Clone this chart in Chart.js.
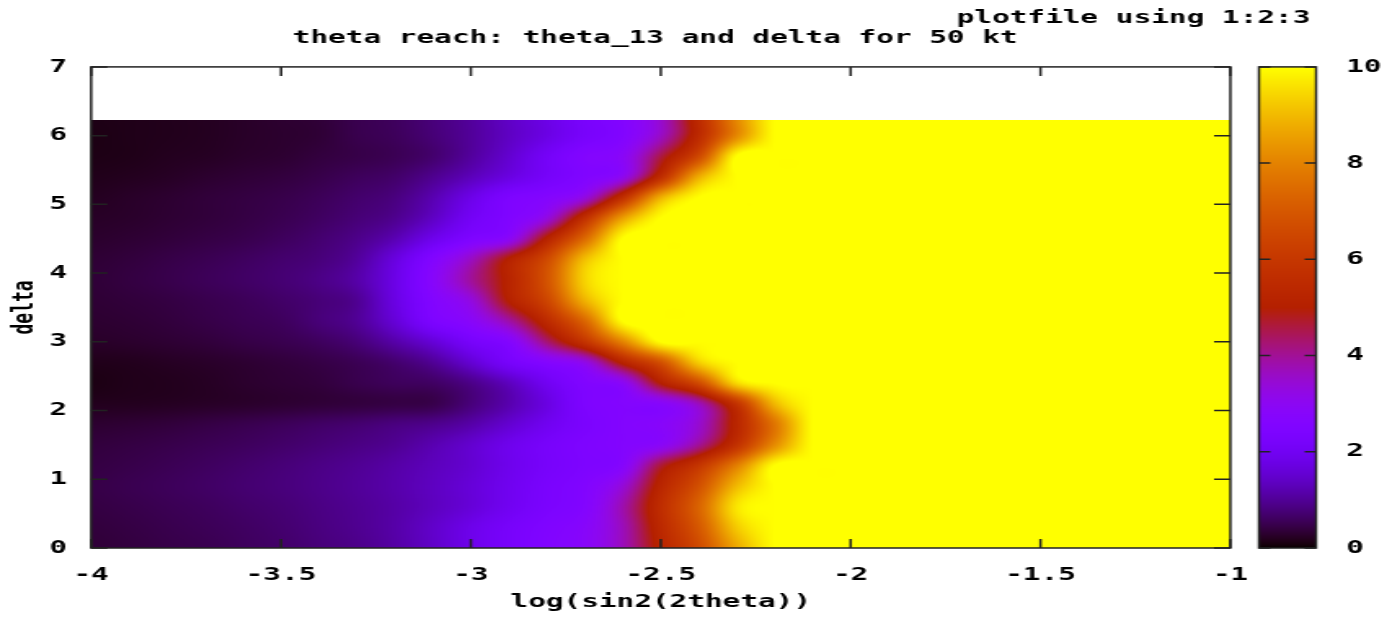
<!DOCTYPE html>
<html>
<head>
<meta charset="utf-8">
<title>theta reach</title>
<script src="https://cdn.jsdelivr.net/npm/chart.js@4.4.1/dist/chart.umd.min.js"></script>
<style>
  html, body { margin: 0; padding: 0; background: #fff; overflow: hidden; }
  #wrap { position: absolute; left: 0; top: 0; width: 850px; height: 619px; transform: scale(1.6318, 1); transform-origin: 0 0; }
</style>
</head>
<body>
<div id="wrap"><canvas id="reach" width="850" height="619"></canvas></div>
<script>
// log(sin2(2theta)) columns of the grid
const logSin = [-4.0, -3.9, -3.8, -3.7, -3.6, -3.5, -3.4, -3.3, -3.2, -3.1, -3.0,
  -2.9, -2.8, -2.7, -2.6, -2.5, -2.4, -2.3, -2.2, -2.1, -2.0, -1.0];

// delta rows of the grid
const deltas = [0, 0.3, 0.6, 0.9, 1.2, 1.5, 1.8, 2.1, 2.4, 2.7, 3.0,
  3.3, 3.6, 3.9, 4.2, 4.5, 4.8, 5.1, 5.4, 5.7, 6.0, 6.23];

// reach value, one row per delta, one entry per logSin column
const reach = [
  [0.35, 0.40, 0.46, 0.51, 0.59, 0.67, 0.79, 0.91, 1.12, 1.44, 1.86, 2.22, 2.55, 2.85, 3.7, 5.23, 6.63, 8.7, 10, 10, 10, 10],
  [0.38, 0.43, 0.49, 0.55, 0.62, 0.71, 0.83, 0.96, 1.15, 1.46, 1.85, 2.2, 2.5, 2.8, 3.7, 5.43, 7.02, 9.25, 10, 10, 10, 10],
  [0.42, 0.47, 0.53, 0.59, 0.67, 0.75, 0.86, 0.98, 1.13, 1.35, 1.62, 1.99, 2.34, 2.64, 3.8, 5.6, 7.31, 9.65, 10, 10, 10, 10],
  [0.45, 0.51, 0.57, 0.64, 0.72, 0.8, 0.9, 1.02, 1.17, 1.37, 1.62, 1.95, 2.3, 2.58, 3.4, 5.29, 6.8, 8.99, 10, 10, 10, 10],
  [0.42, 0.47, 0.53, 0.6, 0.68, 0.77, 0.87, 0.98, 1.13, 1.32, 1.54, 1.89, 2.2, 2.43, 2.75, 4.65, 5.95, 7.92, 10, 10, 10, 10],
  [0.38, 0.42, 0.47, 0.53, 0.59, 0.67, 0.76, 0.86, 0.98, 1.22, 1.51, 1.89, 2.21, 2.45, 2.62, 2.91, 4.0, 5.8, 8.19, 10, 10, 10],
  [0.30, 0.33, 0.37, 0.43, 0.49, 0.56, 0.64, 0.72, 0.83, 0.93, 1.15, 1.53, 1.96, 2.34, 2.62, 2.8, 3.48, 5.32, 7.72, 10, 10, 10],
  [0.18, 0.19, 0.21, 0.24, 0.27, 0.31, 0.35, 0.39, 0.43, 0.48, 0.8, 1.2, 1.74, 2.43, 2.62, 2.8, 3.7, 5.88, 8.97, 10, 10, 10],
  [0.12, 0.16, 0.18, 0.22, 0.28, 0.33, 0.38, 0.49, 0.58, 0.64, 0.9, 1.35, 2.0, 2.54, 2.95, 5.03, 6.67, 9.48, 10, 10, 10, 10],
  [0.16, 0.18, 0.22, 0.26, 0.31, 0.37, 0.44, 0.54, 0.71, 1.0, 1.55, 2.2, 2.65, 3.2, 5.19, 6.82, 9.31, 10, 10, 10, 10, 10],
  [0.25, 0.28, 0.32, 0.37, 0.44, 0.5, 0.6, 0.78, 1.15, 1.6, 2.2, 2.65, 4.25, 5.89, 8.03, 10, 10, 10, 10, 10, 10, 10],
  [0.3, 0.33, 0.38, 0.45, 0.52, 0.59, 0.78, 1.0, 1.6, 2.4, 2.85, 3.85, 5.48, 7.38, 10, 10, 10, 10, 10, 10, 10, 10],
  [0.33, 0.37, 0.42, 0.49, 0.56, 0.66, 0.78, 0.98, 1.75, 2.6, 3.3, 5.04, 6.47, 8.86, 10, 10, 10, 10, 10, 10, 10, 10],
  [0.35, 0.41, 0.48, 0.56, 0.64, 0.74, 0.88, 1.15, 1.8, 2.8, 3.95, 5.22, 6.88, 9.39, 10, 10, 10, 10, 10, 10, 10, 10],
  [0.33, 0.38, 0.45, 0.52, 0.6, 0.7, 0.8, 1.05, 1.7, 2.6, 3.6, 5.08, 6.6, 9.07, 10, 10, 10, 10, 10, 10, 10, 10],
  [0.28, 0.32, 0.37, 0.43, 0.49, 0.59, 0.72, 0.91, 1.25, 1.88, 2.47, 2.95, 5.15, 7.47, 10, 10, 10, 10, 10, 10, 10, 10],
  [0.24, 0.27, 0.32, 0.37, 0.43, 0.51, 0.62, 0.77, 0.95, 1.4, 2.07, 2.52, 3.3, 5.72, 8.54, 10, 10, 10, 10, 10, 10, 10],
  [0.2, 0.25, 0.3, 0.36, 0.41, 0.47, 0.56, 0.69, 0.83, 1.22, 1.82, 2.41, 2.65, 3.3, 5.7, 8.82, 10, 10, 10, 10, 10, 10],
  [0.16, 0.19, 0.23, 0.29, 0.34, 0.39, 0.47, 0.58, 0.68, 0.95, 1.31, 1.73, 2.17, 2.55, 3.1, 5.61, 8.78, 10, 10, 10, 10, 10],
  [0.13, 0.15, 0.19, 0.22, 0.27, 0.31, 0.39, 0.46, 0.54, 0.71, 1.06, 1.52, 2.11, 2.6, 2.9, 4.56, 6.58, 10, 10, 10, 10, 10],
  [0.12, 0.15, 0.17, 0.2, 0.25, 0.29, 0.34, 0.49, 0.58, 0.77, 1.03, 1.39, 1.78, 2.24, 2.6, 3.6, 5.5, 8.12, 10, 10, 10, 10],
  [0.13, 0.15, 0.17, 0.2, 0.25, 0.3, 0.35, 0.5, 0.6, 0.8, 1.05, 1.42, 1.8, 2.27, 2.62, 3.5, 5.5, 8.1, 10, 10, 10, 10],
];

const xTicks = [-4, -3.5, -3, -2.5, -2, -1.5, -1];
const yTicks = [0, 1, 2, 3, 4, 5, 6, 7];
const cbTicks = [0, 2, 4, 6, 8, 10];

const FONT = { family: "'DejaVu Sans Mono', monospace", size: 18, weight: 'bold' };
const FONT_CSS = "bold 18px 'DejaVu Sans Mono', monospace";
const BLACK = '#000000';
const FRAME = '#222222';
const CLEAR = 'rgba(0,0,0,0)';
const X_TICK = 9;
const Y_TICK = 10;
const CB_GAP = 17.5;
const CB_WIDTH = 35;
const CB_TICK = 7;
const CB_LABEL = 71;

Chart.defaults.color = BLACK;

const heatmap = {
  id: 'heatmap',
  beforeDraw(chart) {
    const { ctx } = chart;
    const { x, y } = chart.scales;
    const left = Math.round(x.getPixelForValue(logSin[0]));
    const right = Math.round(x.getPixelForValue(logSin[logSin.length - 1]));
    const top = Math.round(y.getPixelForValue(deltas[deltas.length - 1]));
    const bottom = Math.round(y.getPixelForValue(deltas[0]));
    const w = right - left;
    const h = bottom - top;
    const img = ctx.createImageData(w, h);

    const cols = [];
    for (let i = 0; i < w; i++) cols.push(locate(logSin, x.getValueForPixel(left + i + 0.5)));

    for (let j = 0; j < h; j++) {
      const [r, u] = locate(deltas, y.getValueForPixel(top + j + 0.5));
      const rows = [r - 1, r, r + 1, r + 2].map((k) => reach[clampIndex(k, reach.length)]);
      for (let i = 0; i < w; i++) {
        const [c, t] = cols[i];
        const ks = [c - 1, c, c + 1, c + 2].map((k) => clampIndex(k, logSin.length));
        const along = rows.map((row) => cubic(row[ks[0]], row[ks[1]], row[ks[2]], row[ks[3]], t));
        const rgb = palette(cubic(along[0], along[1], along[2], along[3], u));
        const k = (j * w + i) * 4;
        img.data[k] = rgb[0];
        img.data[k + 1] = rgb[1];
        img.data[k + 2] = rgb[2];
        img.data[k + 3] = 255;
      }
    }
    ctx.putImageData(img, left, top);
  }
};

const frame = {
  id: 'frame',
  afterDraw(chart) {
    const { ctx, chartArea: a } = chart;
    const { x, y } = chart.scales;
    ctx.save();
    ctx.strokeStyle = FRAME;
    ctx.lineWidth = 1.5;
    ctx.strokeRect(a.left, a.top, a.right - a.left, a.bottom - a.top);
    ctx.beginPath();
    xTicks.forEach((v) => {
      const px = x.getPixelForValue(v);
      ctx.moveTo(px, a.bottom);
      ctx.lineTo(px, a.bottom - X_TICK);
      ctx.moveTo(px, a.top);
      ctx.lineTo(px, a.top + X_TICK);
    });
    yTicks.forEach((v) => {
      const py = y.getPixelForValue(v);
      ctx.moveTo(a.left, py);
      ctx.lineTo(a.left + Y_TICK, py);
      ctx.moveTo(a.right, py);
      ctx.lineTo(a.right - Y_TICK, py);
    });
    ctx.stroke();
    ctx.restore();
  }
};

const colorbar = {
  id: 'colorbar',
  beforeDraw(chart) {
    const { ctx } = chart;
    const cb = chart.scales.cb;
    const left = cb.left + CB_GAP;
    const top = Math.round(cb.getPixelForValue(cbTicks[cbTicks.length - 1]));
    const bottom = Math.round(cb.getPixelForValue(cbTicks[0]));
    for (let py = top; py < bottom; py++) {
      const rgb = palette(cb.getValueForPixel(py + 0.5));
      ctx.fillStyle = `rgb(${rgb[0]},${rgb[1]},${rgb[2]})`;
      ctx.fillRect(left, py, CB_WIDTH, 1);
    }
  },
  afterDraw(chart) {
    const { ctx } = chart;
    const cb = chart.scales.cb;
    const left = cb.left + CB_GAP;
    const top = cb.getPixelForValue(cbTicks[cbTicks.length - 1]);
    const bottom = cb.getPixelForValue(cbTicks[0]);
    ctx.save();
    ctx.strokeStyle = FRAME;
    ctx.lineWidth = 1.5;
    ctx.strokeRect(left, top, CB_WIDTH, bottom - top);
    ctx.beginPath();
    cbTicks.forEach((v) => {
      const py = cb.getPixelForValue(v);
      ctx.moveTo(left, py);
      ctx.lineTo(left + CB_TICK, py);
      ctx.moveTo(left + CB_WIDTH, py);
      ctx.lineTo(left + CB_WIDTH - CB_TICK, py);
    });
    ctx.stroke();
    ctx.fillStyle = BLACK;
    ctx.font = FONT_CSS;
    ctx.textAlign = 'left';
    ctx.textBaseline = 'middle';
    cbTicks.forEach((v) => ctx.fillText(String(v), cb.left + CB_LABEL, cb.getPixelForValue(v)));
    ctx.restore();
  }
};

const spacer = (len) => ({ display: true, drawOnChartArea: false, drawTicks: true, tickLength: len, color: CLEAR });
const useTicks = (list) => (scale) => { scale.ticks = list.map((v) => ({ value: v })); };

new Chart(document.getElementById('reach'), {
  type: 'scatter',
  data: { datasets: [] },
  plugins: [heatmap, colorbar, frame],
  options: {
    responsive: false,
    animation: false,
    devicePixelRatio: 1,
    layout: { padding: { left: 0, right: 47, top: 0, bottom: 0 } },
    plugins: {
      legend: { display: false },
      tooltip: { enabled: false },
      title: {
        display: true, text: 'plotfile using 1:2:3', align: 'end',
        color: BLACK, font: FONT, padding: { top: 8, bottom: -2 }
      },
      subtitle: {
        display: true, text: 'theta reach: theta_13 and delta for 50 kt',
        color: BLACK, font: FONT, padding: { top: 0, bottom: 17.7 }
      }
    },
    scales: {
      x: {
        type: 'linear', position: 'bottom', min: -4, max: -1,
        afterBuildTicks: useTicks(xTicks),
        grid: spacer(16.5), border: { display: false },
        ticks: { padding: 0, font: FONT, color: BLACK, autoSkip: false, maxRotation: 0, callback: (v) => String(v) },
        title: { display: true, text: 'log(sin2(2theta))', font: FONT, color: BLACK, padding: { top: 5.9, bottom: 5.4 } }
      },
      y: {
        type: 'linear', position: 'left', min: 0, max: 7,
        afterBuildTicks: useTicks(yTicks),
        grid: spacer(14.8), border: { display: false },
        ticks: { padding: 0, font: FONT, color: BLACK, autoSkip: false, callback: (v) => String(v) },
        title: { display: true, text: 'delta', font: FONT, color: BLACK, padding: { top: 4.4, bottom: 4.2 } }
      },
      cb: {
        type: 'linear', position: 'right', min: 0, max: 10,
        afterBuildTicks: useTicks(cbTicks),
        afterFit: (s) => { s.width = 49; },
        grid: { display: false },
        border: { display: false },
        ticks: { display: false }
      }
    }
  }
});

// gnuplot palette rgbformulae 7,5,15 on a 0..10 range
function palette(v) {
  const g = Math.min(1, Math.max(0, v / 10));
  return [
    Math.round(255 * Math.sqrt(g)),
    Math.round(255 * g * g * g),
    Math.round(255 * Math.max(0, Math.sin(2 * Math.PI * g)))
  ];
}

function locate(grid, v) {
  let k = 0;
  while (k < grid.length - 2 && v > grid[k + 1]) k++;
  const t = (v - grid[k]) / (grid[k + 1] - grid[k]);
  return [k, Math.min(1, Math.max(0, t))];
}

function clampIndex(k, n) {
  return Math.min(n - 1, Math.max(0, k));
}

// smooth shading between grid nodes (Catmull-Rom)
function cubic(p0, p1, p2, p3, t) {
  return p1 + 0.5 * t * (p2 - p0 + t * (2 * p0 - 5 * p1 + 4 * p2 - p3 + t * (3 * (p1 - p2) + p3 - p0)));
}
</script>
</body>
</html>
